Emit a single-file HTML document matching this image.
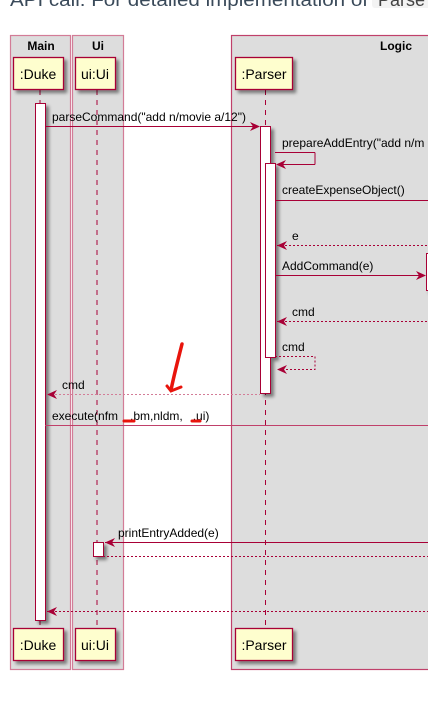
<!DOCTYPE html>
<html><head><meta charset="utf-8"><style>
html,body{margin:0;padding:0;background:#fff;width:428px;height:716px;overflow:hidden}
svg{display:block}
text{font-family:"Liberation Sans",sans-serif;font-size:12px;fill:#000}
</style></head><body>
<svg width="428" height="716" viewBox="0 0 428 716" xmlns="http://www.w3.org/2000/svg">
<defs>
<filter id="sh" x="-20%" y="-20%" width="160%" height="160%"><feDropShadow dx="3" dy="3" stdDeviation="1.5" flood-color="#000" flood-opacity="0.45"/></filter>
</defs>
<text x="10" y="6" textLength="358" lengthAdjust="spacingAndGlyphs" style="font-size:18px;fill:#3a4a5a">API call. For detailed implementation of</text>
<rect x="372" y="-10" width="60" height="18" rx="3" fill="#f3f3f3"/>
<text x="378" y="6" style="font-size:18px;fill:#444">Parse</text>
<rect x="10.5" y="35.5" width="60" height="634" fill="#dddddd" stroke="#d37c97" stroke-width="1.2"/>
<rect x="72.5" y="35.5" width="51" height="634" fill="#dddddd" stroke="#d37c97" stroke-width="1.2"/>
<rect x="231.5" y="35.5" width="200" height="634" fill="#dddddd" stroke="#c0406a" stroke-width="1.2"/>
<text x="41" y="50" text-anchor="middle" style="font-weight:bold">Main</text>
<text x="98" y="50" text-anchor="middle" style="font-weight:bold">Ui</text>
<text x="396" y="50" text-anchor="middle" style="font-weight:bold">Logic</text>
<g stroke="#a80036" stroke-dasharray="5,5" stroke-width="1">
<line x1="40" y1="90" x2="40" y2="628"/>
<line x1="97" y1="90" x2="97" y2="628"/>
<line x1="265.5" y1="90" x2="265.5" y2="628"/>
</g>
<g fill="#fefece" stroke="#a80036" stroke-width="1.3" filter="url(#sh)">
<rect x="13.5" y="57.5" width="50" height="32"/>
<rect x="75.5" y="57.5" width="40" height="32"/>
<rect x="235.5" y="57.5" width="57" height="32"/>
<rect x="13.5" y="628.5" width="50" height="32"/>
<rect x="75.5" y="628.5" width="40" height="32"/>
<rect x="235.5" y="628.5" width="57" height="32"/>
</g>
<text x="38" y="79" text-anchor="middle" style="font-size:14px">:Duke</text>
<text x="95" y="79" text-anchor="middle" style="font-size:14px">ui:Ui</text>
<text x="264" y="79" text-anchor="middle" style="font-size:14px">:Parser</text>
<text x="38" y="650" text-anchor="middle" style="font-size:14px">:Duke</text>
<text x="95" y="650" text-anchor="middle" style="font-size:14px">ui:Ui</text>
<text x="264" y="650" text-anchor="middle" style="font-size:14px">:Parser</text>
<g fill="#fff" stroke="#a80036" stroke-width="1" filter="url(#sh)">
<rect x="35.5" y="103.5" width="10" height="517"/>
<rect x="260.5" y="126.5" width="10" height="267"/>
<rect x="265.5" y="163.5" width="10" height="194"/>
<rect x="93.5" y="542.5" width="10" height="14"/>
<rect x="426.5" y="253.5" width="10" height="37"/>
</g>
<g stroke="#a80036" fill="none" stroke-width="1">
<line x1="45" y1="126.5" x2="259" y2="126.5"/>
<line x1="275" y1="152.5" x2="315" y2="152.5"/><line x1="315" y1="152.5" x2="315" y2="164.5"/><line x1="315" y1="164.5" x2="277" y2="164.5"/>
<line x1="275" y1="200.5" x2="428" y2="200.5"/>
<line x1="277" y1="245.5" x2="428" y2="245.5" stroke-dasharray="2,2"/>
<line x1="275" y1="275.5" x2="425" y2="275.5"/>
<line x1="277" y1="321.5" x2="428" y2="321.5" stroke-dasharray="2,2"/>
<polyline points="275,356.5 315,356.5 315,369.5 277,369.5" stroke-dasharray="2,2"/>
<line x1="47" y1="394.5" x2="260" y2="394.5" stroke-dasharray="2,2" stroke="#d37c97"/>
<line x1="45" y1="425.5" x2="428" y2="425.5" stroke="#c0406a"/>
<line x1="105" y1="542.5" x2="428" y2="542.5"/>
<line x1="103" y1="556.5" x2="428" y2="556.5" stroke-dasharray="2,2"/>
<line x1="47" y1="611.5" x2="428" y2="611.5" stroke-dasharray="2,2"/>
</g>
<g fill="#a80036">
<polygon points="250,122 260,126.5 250,131 253,126.5"/>
<polygon points="286,160 276,164.5 286,169 283,164.5"/>
<polygon points="287,241 277,245.5 287,250 284,245.5"/>
<polygon points="416,271 426,275.5 416,280 419,275.5"/>
<polygon points="287,317 277,321.5 287,326 284,321.5"/>
<polygon points="287,365 277,369.5 287,374 284,369.5"/>
<polygon points="57,390 47,394.5 57,399 54,394.5"/>
<polygon points="115,538 105,542.5 115,547 112,542.5"/>
<polygon points="57,607 47,611.5 57,616 54,611.5"/>
</g>
<text x="52" y="121">parseCommand("add n/movie a/12")</text>
<text x="282" y="147">prepareAddEntry("add n/m</text>
<text x="282" y="194">createExpenseObject()</text>
<text x="292" y="240">e</text>
<text x="282" y="270">AddCommand(e)</text>
<text x="292" y="316">cmd</text>
<text x="282" y="351">cmd</text>
<text x="62" y="389">cmd</text>
<text x="52" y="420">execute(nfm<tspan dx="12">,bm,nldm,</tspan><tspan dx="10">,ui)</tspan></text>
<text x="118" y="537">printEntryAdded(e)</text>
<g stroke="#e8140c" stroke-linecap="round" fill="none">
<path d="M182,344 C178,360 174,375 171,390" stroke-width="3.5"/>
<path d="M167,386 L171,391 L181,387" stroke-width="3"/>
<line x1="124" y1="421" x2="134" y2="421" stroke-width="3"/>
<line x1="192" y1="421" x2="200" y2="421" stroke-width="3"/>
</g>
</svg>
</body></html>
